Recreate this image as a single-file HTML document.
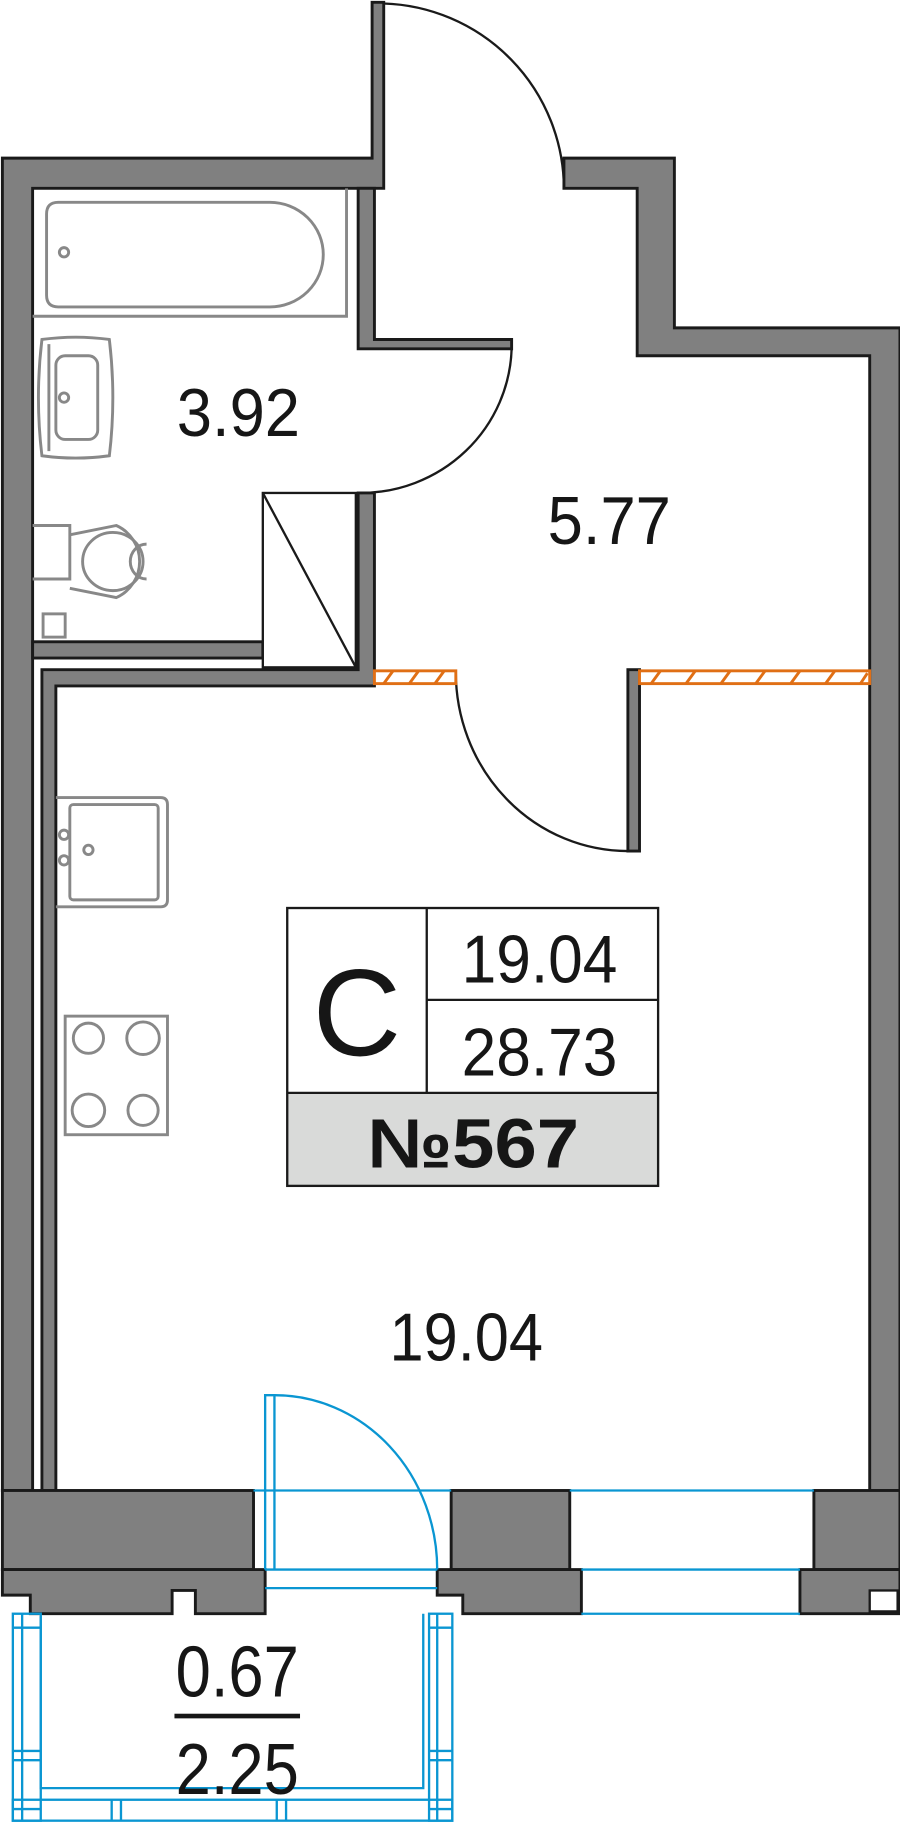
<!DOCTYPE html>
<html><head><style>html,body{margin:0;padding:0;background:#fff}svg{display:block}</style></head>
<body>
<svg width="900" height="1823" viewBox="0 0 774 1568" xmlns="http://www.w3.org/2000/svg" font-family="Liberation Sans, sans-serif">
<g fill="#808080" stroke="#1a1a1a" stroke-width="2.5" stroke-linejoin="miter">
  <polygon points="2,136 320,136 320,2 330,2 330,162 28,162 28,1282 2,1282"/>
  <polygon points="485,136 580,136 580,282 774,282 774,1282 748,1282 748,306 548,306 548,162 485,162"/>
  <polygon points="308,162 322,162 322,292 440,292 440,300 308,300"/>
  <polygon points="308,424 322,424 322,590 48,590 48,1282 36,1282 36,576 308,576"/>
  <rect x="28" y="552" width="198" height="14"/>
  <rect x="540" y="576" width="10" height="156"/>
  <rect x="2" y="1282" width="216" height="68"/>
  <polygon points="2,1350 228,1350 228,1388 168,1388 168,1368 148,1368 148,1388 26,1388 26,1372 2,1372"/>
  <rect x="388" y="1282" width="102" height="68"/>
  <polygon points="376,1350 500,1350 500,1388 398,1388 398,1372 376,1372"/>
  <rect x="700" y="1282" width="74" height="68"/>
  <polygon points="688,1350 774,1350 774,1388 688,1388"/>
</g>
<rect x="748" y="1368" width="24" height="18" fill="#fff" stroke="#1a1a1a" stroke-width="2"/>
<rect x="226" y="424" width="80" height="150" fill="#fff" stroke="#1a1a1a" stroke-width="2"/>
<line x1="226" y1="424" x2="306" y2="574" stroke="#1a1a1a" stroke-width="2"/>
<g fill="none" stroke="#1a1a1a" stroke-width="2">
  <path d="M330,3 A160,160 0 0 1 485,162"/>
  <path d="M440,300 A130,128 0 0 1 310,424"/>
  <path d="M392,578 A148,154 0 0 0 540,732"/>
</g>
<g stroke="#e06f15" stroke-width="2.5" fill="#fff">
  <rect x="322" y="577" width="70" height="11"/>
  <rect x="550" y="577" width="198" height="11"/>
  <path d="M330,588 l8,-11 M352,588 l8,-11 M374,588 l8,-11 M560,588 l8,-11 M590,588 l8,-11 M620,588 l8,-11 M650,588 l8,-11 M680,588 l8,-11 M710,588 l8,-11 M740,588 l6,-9" fill="none"/>
</g>
<g fill="none" stroke="#888" stroke-width="2.5">
  <path d="M28,272 L298,272 L298,162"/>
  <path d="M50,174 L232,174 A46,45 0 0 1 232,264 L50,264 Q40,264 40,254 L40,184 Q40,174 50,174 Z"/>
  <circle cx="55" cy="217" r="4"/>
  <path d="M36,292 Q65,288 94,292 Q100,342 94,392 Q65,396 36,392 Q30,342 36,292 Z"/>
  <rect x="48" y="306" width="36" height="72" rx="8"/>
  <line x1="42" y1="296" x2="42" y2="388"/>
  <circle cx="55" cy="342" r="4"/>
  <path d="M28,452 L60,452 L60,498 L28,498"/>
  <path d="M60,460 L100,452 A34,34 0 0 1 100,514 L60,506"/>
  <ellipse cx="97" cy="483" rx="26" ry="25"/>
  <path d="M126,468 A14,15 0 0 0 126,498"/>
  <rect x="37" y="528" width="19" height="20"/>
  <path d="M48,686 L138,686 Q144,686 144,692 L144,774 Q144,780 138,780 L48,780"/>
  <rect x="60" y="692" width="76" height="82" rx="3"/>
  <circle cx="55" cy="718" r="4"/><circle cx="55" cy="740" r="4"/><circle cx="76" cy="731" r="4"/>
  <rect x="56" y="874" width="88" height="102"/>
  <circle cx="76" cy="893" r="13"/><circle cx="123" cy="893" r="14"/>
  <circle cx="76" cy="955" r="14"/><circle cx="123" cy="955" r="13"/>
</g>
<g fill="none" stroke="#0a96d2" stroke-width="2">
  <path d="M218,1282 L388,1282 M490,1282 L700,1282"/>
  <path d="M228,1350 L376,1350 M500,1350 L688,1350 M500,1388 L688,1388 M228,1366 L376,1366"/>
  <path d="M228,1350 L228,1200 L236,1200 L236,1350"/>
  <path d="M236,1200 A140,150 0 0 1 376,1350"/>
  <rect x="11" y="1388" width="24" height="178"/>
  <rect x="369" y="1388" width="20" height="178"/>
  <rect x="11" y="1548" width="378" height="18"/>
  <path d="M19,1388 L19,1566 M376,1388 L376,1566"/>
  <path d="M35,1390 L35,1538 L364,1538 L364,1388"/>
  <path d="M11,1400 L35,1400 M11,1506 L35,1506 M11,1514 L35,1514 M369,1400 L389,1400 M369,1506 L389,1506 M369,1514 L389,1514"/>
  <path d="M96,1548 L96,1566 M104,1548 L104,1566 M238,1548 L238,1566 M246,1548 L246,1566 M11,1556 L35,1556 M369,1556 L389,1556"/>
</g>
<rect x="247" y="940" width="319" height="80" fill="#d9dad9"/>
<g fill="none" stroke="#1a1a1a" stroke-width="2">
  <rect x="247" y="781" width="319" height="239"/>
  <line x1="367" y1="781" x2="367" y2="940"/>
  <line x1="367" y1="860" x2="566" y2="860"/>
  <line x1="247" y1="940" x2="566" y2="940"/>
</g>
<g fill="#161616">
  <text x="307" y="908" font-size="106" text-anchor="middle" textLength="76" lengthAdjust="spacingAndGlyphs">С</text>
  <text x="464" y="845" font-size="58" text-anchor="middle" textLength="134" lengthAdjust="spacingAndGlyphs">19.04</text>
  <text x="464" y="925" font-size="58" text-anchor="middle" textLength="134" lengthAdjust="spacingAndGlyphs">28.73</text>
  <text x="407" y="1004" font-size="60" font-weight="bold" text-anchor="middle" textLength="182" lengthAdjust="spacingAndGlyphs">№567</text>
  <text x="205" y="375" font-size="58" text-anchor="middle" textLength="106" lengthAdjust="spacingAndGlyphs">3.92</text>
  <text x="524" y="468" font-size="58" text-anchor="middle" textLength="106" lengthAdjust="spacingAndGlyphs">5.77</text>
  <text x="401" y="1170" font-size="58" text-anchor="middle" textLength="132" lengthAdjust="spacingAndGlyphs">19.04</text>
  <text x="204" y="1459" font-size="62" text-anchor="middle" textLength="106" lengthAdjust="spacingAndGlyphs">0.67</text>
  <text x="204" y="1543" font-size="62" text-anchor="middle" textLength="106" lengthAdjust="spacingAndGlyphs">2.25</text>
</g>
<rect x="150" y="1474" width="108" height="4" fill="#161616"/>
</svg>
</body></html>
